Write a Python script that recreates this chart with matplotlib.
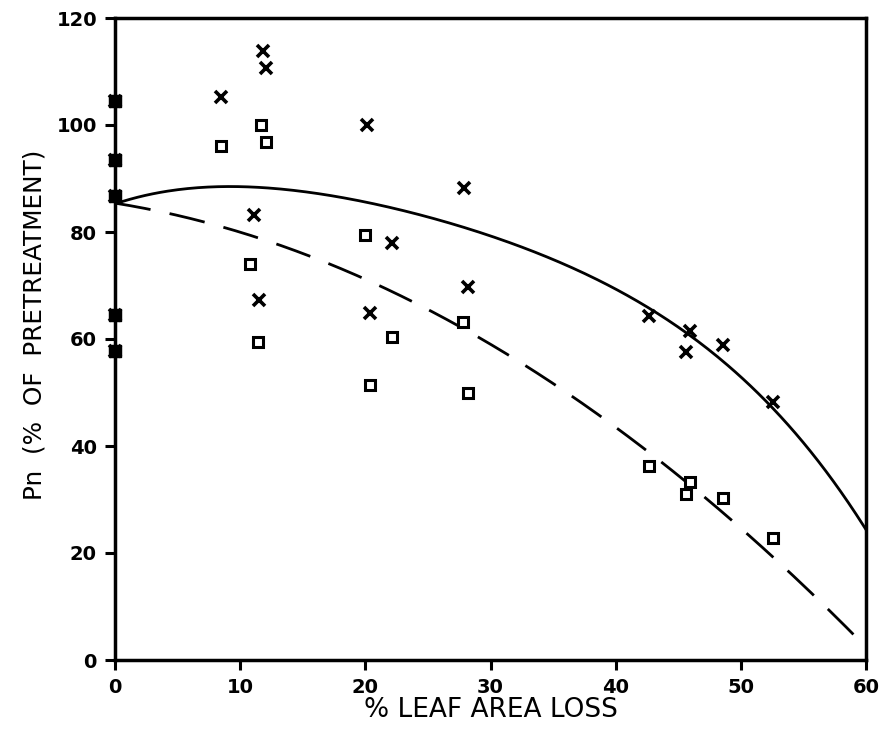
import numpy as np
import matplotlib
matplotlib.use("Agg")
import matplotlib.pyplot as plt

# Data
x_cross = [0, 0, 0, 0, 0, 11.8, 12.1, 8.5, 11.1, 11.5, 20.1, 22.1, 20.4, 27.9, 28.2,
           42.7, 45.9, 45.6, 48.6, 52.6]
y_cross = [104.5, 93.5, 86.7, 64.5, 57.8, 113.8, 110.7, 105.2, 83.2, 67.3, 100, 77.9, 64.9,
           88.2, 69.7, 64.3, 61.5, 57.6, 58.9, 48.2]

x_square = [0, 0, 0, 0, 0, 8.5, 11.7, 12.1, 10.8, 11.4, 20.0, 20.4, 22.1, 27.8, 28.2,
            42.7, 45.9, 45.6, 48.6, 52.6]
y_square = [104.5, 93.5, 86.7, 64.5, 57.8, 96.1, 100, 96.8, 74.0, 59.4, 79.4, 51.4, 60.4,
            63.2, 49.9, 36.3, 33.3, 31.0, 30.3, 22.8]

# Fitted curves
solid_x = [0, 10.2, 15.6, 30.8, 42.5, 52.3, 56.3, 60]
solid_y = [85.4, 87.9, 87.7, 79.4, 64.5, 48.9, 36.8, 24.0]
dashed_coef = [-0.016797, -0.3755, 85.4]  # quadratic fit (c, b, a)

x_ticks = [0, 10, 20, 30, 40, 50, 60]
y_ticks = [0, 20, 40, 60, 80, 100, 120]

fig = plt.figure(figsize=(8.82, 7.29), dpi=100)
ax = fig.add_axes([115/882, 69/729, (866-115)/882, (660-18)/729])

xs = np.linspace(0, 60, 300)
solid_fit = np.polyfit(solid_x, solid_y, 4)
ax.plot(xs, np.polyval(solid_fit, xs), color="black", lw=2.0)
ax.plot(xs, np.polyval(dashed_coef, xs), color="black", lw=2.0, dashes=(13, 7))

ax.plot(x_cross, y_cross, linestyle="none", marker="x", color="black",
        markersize=8, markeredgewidth=2.6, clip_on=False)
ax.plot(x_square, y_square, linestyle="none", marker="s", markerfacecolor="white",
        markeredgecolor="black", markersize=7.5, markeredgewidth=2.2, clip_on=False)
# solid blobs at zero leaf loss
ax.plot(x_square[:5], y_square[:5], linestyle="none", marker="s", color="black",
        markersize=9, clip_on=False, zorder=5)

ax.set_xlim(0, 60)
ax.set_ylim(0, 120)
ax.set_xticks(x_ticks)
ax.set_yticks(y_ticks)
for s in ax.spines.values():
    s.set_linewidth(2.5)
ax.tick_params(direction="out", length=7, width=2.2, pad=6)
for lab in ax.get_xticklabels() + ax.get_yticklabels():
    lab.set_fontweight("heavy")
    lab.set_fontsize(14)
    lab.set_family("DejaVu Sans")

ax.set_xlabel("% LEAF AREA LOSS", fontsize=19, family="Liberation Sans Narrow",
              labelpad=0)
fig.text(35/882, 1 - 325/729, "Pn  (%  OF  PRETREATMENT)", rotation=90,
         fontsize=17.8, family="DejaVu Sans", ha="center", va="center")

fig.savefig("out.png", dpi=100)
